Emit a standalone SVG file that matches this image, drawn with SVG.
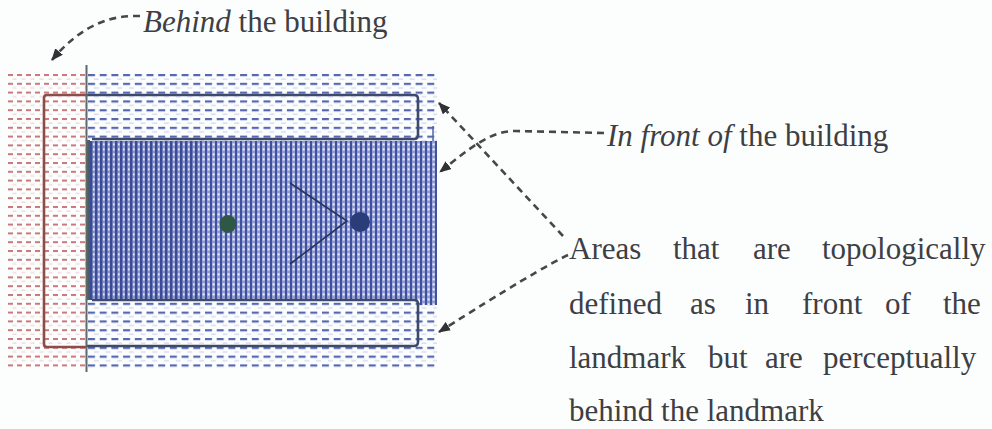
<svg xmlns="http://www.w3.org/2000/svg" width="992" height="429" viewBox="0 0 992 429">
<style>
  .txt { font-family: "Liberation Serif", "Times New Roman", serif; font-size: 31px; fill: #3c4044; }
  .it { font-style: italic; }
  .conn { fill: none; stroke: #45484b; stroke-width: 2.6; stroke-dasharray: 7 5; }
  .box { fill: none; stroke: #3e4a6c; stroke-width: 2.6; }
</style>
<defs>
  <pattern id="redDash" patternUnits="userSpaceOnUse" x="8" y="74" width="9" height="8.8">
    <rect x="0" y="0" width="5" height="2" fill="#c9787c"/>
    <rect x="4.5" y="4.4" width="4" height="1.5" fill="#e0b8ba" opacity="0.5"/>
  </pattern>
  <pattern id="blueDash" patternUnits="userSpaceOnUse" x="88" y="74" width="11.7" height="8.8">
    <rect x="0" y="0" width="7" height="2.2" fill="#5666b0"/>
    <rect x="5.8" y="4.4" width="5" height="1.5" fill="#a8b1dc" opacity="0.45"/>
  </pattern>
  <pattern id="hatch" patternUnits="userSpaceOnUse" x="90" y="141" width="5" height="5">
    <rect x="0" y="0" width="5" height="5" fill="#8f9bd2"/>
    <rect x="2.6" y="2.4" width="2" height="2" fill="#eef1fb"/>
    <rect x="0" y="0" width="2" height="5" fill="#4050a0"/>
  </pattern>
  <pattern id="hatchDark" patternUnits="userSpaceOnUse" x="90" y="141" width="5" height="5">
    <rect x="0" y="0" width="5" height="5" fill="#8894cc"/>
    <rect x="2.8" y="2.4" width="1.8" height="2" fill="#e6eaf8"/>
    <rect x="0" y="0" width="2.4" height="5" fill="#3a4a98"/>
  </pattern>
  <marker id="arr" viewBox="0 0 12 10" refX="11" refY="5" markerWidth="12" markerHeight="10" markerUnits="userSpaceOnUse" orient="auto">
    <path d="M0,0 L12,5 L0,10 Z" fill="#303234"/>
  </marker>
</defs>
<rect x="0" y="0" width="992" height="429" fill="#fcfefe"/>

<g id="behind-area">
  <rect x="8" y="72" width="78" height="296" fill="url(#redDash)"/>
</g>
<g id="front-area">
  <rect x="88" y="72" width="349" height="296" fill="url(#blueDash)"/>
</g>
<g id="building">
  <rect x="90" y="141" width="347" height="159" fill="url(#hatch)"/>
  <rect x="90" y="141" width="110" height="159" fill="url(#hatchDark)"/>
  <line x1="433" y1="126" x2="433" y2="141" stroke="#5564aa" stroke-width="1.5"/>
  <rect x="420" y="300" width="17" height="5" fill="url(#hatch)"/>
  <line x1="88.5" y1="140" x2="88.5" y2="300" stroke="#4a5e60" stroke-width="3"/>
</g>
<g id="behind-box">
  <path d="M86,95 L47,95 Q44,95 44,98 L44,344 Q44,347 47,347 L86,347" fill="none" stroke="#8e4c47" stroke-width="2.6"/>
</g>
<g id="top-box">
  <path class="box" d="M86,95 L414,95 Q418,95 418,99 L418,135 Q418,139 414,139 L92,139"/>
</g>
<g id="bottom-box">
  <path class="box" d="M92,300 L414,300 Q418,300 418,304 L418,342 Q418,346 414,346 L86,346"/>
</g>
<g id="divider">
  <line x1="86.5" y1="65" x2="86.5" y2="372" stroke="#5d6a6c" stroke-width="2"/>
</g>
<g id="landmark">
  <ellipse cx="228" cy="224" rx="8.5" ry="9" fill="#2f5746"/>
</g>
<g id="viewer">
  <polyline points="290,183 347,221 290,264" fill="none" stroke="#2b3458" stroke-width="1.6"/>
  <circle cx="360" cy="222" r="10" fill="#2b3d78"/>
</g>

<g id="connectors">
  <path class="conn" d="M140,16 C112,15 82,24 52,60" marker-end="url(#arr)"/>
  <path class="conn" d="M604,133 L515,131 C490,131 470,148 440,172" marker-end="url(#arr)"/>
  <path class="conn" d="M563,236 L439,103" marker-end="url(#arr)"/>
  <path class="conn" d="M568,255 Q540,268 439,332" marker-end="url(#arr)"/>
</g>

<g id="label-behind">
  <text class="txt" x="143" y="32"><tspan class="it">Behind</tspan> the building</text>
</g>
<g id="label-front">
  <text class="txt" x="607" y="146"><tspan class="it">In front of</tspan> the building</text>
</g>
<g id="label-areas">
  <text class="txt" y="259"><tspan x="569">Areas</tspan><tspan x="673">that</tspan><tspan x="753">are</tspan><tspan x="822">topologically</tspan></text>
  <text class="txt" y="314"><tspan x="569">defined</tspan><tspan x="690">as</tspan><tspan x="745">in</tspan><tspan x="802">front</tspan><tspan x="885">of</tspan><tspan x="943">the</tspan></text>
  <text class="txt" y="368"><tspan x="569">landmark</tspan><tspan x="708">but</tspan><tspan x="765">are</tspan><tspan x="823">perceptually</tspan></text>
  <text class="txt" x="569" y="421">behind the landmark</text>
</g>
</svg>
